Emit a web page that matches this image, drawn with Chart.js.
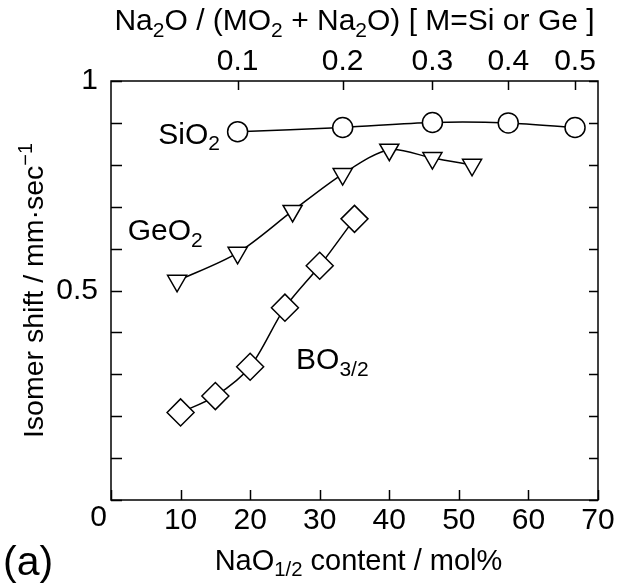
<!DOCTYPE html>
<html>
<head>
<meta charset="utf-8">
<script src="https://cdn.jsdelivr.net/npm/chart.js@4/dist/chart.umd.min.js"></script>
<style>
html, body { margin: 0; padding: 0; background: #fff; }
#wrap { width: 619px; height: 584px; }
</style>
</head>
<body>
<div id="wrap"><canvas id="chart"></canvas></div>
<script>
// NaO1/2 content (mol%) vs isomer shift (mm/sec)
const siX = [18.2, 33.3, 46.2, 57.1, 66.7];
const siY = [0.879, 0.889, 0.901, 0.900, 0.889];
const geX = [9.5, 18.2, 26.1, 33.3, 40.0, 46.2, 51.9];
const geY = [0.523, 0.590, 0.690, 0.778, 0.836, 0.816, 0.800];
const boX = [10, 15, 20, 25, 30, 35];
const boY = [0.209, 0.248, 0.318, 0.459, 0.559, 0.671];

// axis ticks
const xTicks = [0, 10, 20, 30, 40, 50, 60, 70];
const yTicks = [0, 0.1, 0.2, 0.3, 0.4, 0.5, 0.6, 0.7, 0.8, 0.9, 1];
const yLabels = ['', '', '', '', '', '0.5', '', '', '', '', '1'];
// top axis: Na2O/(MO2+Na2O) labels and where they sit on the mol% scale
const topLabels = ['0.1', '0.2', '0.3', '0.4', '0.5'];
const topTickPos = [18.2, 33.3, 46.2, 57.1, 66.7];

const FAMILY = '"Liberation Sans", Arial, sans-serif';
const tickFont = { family: FAMILY, size: 30, lineHeight: 1.2 };

function pts(xs, ys) {
    return xs.map((x, i) => ({ x: x, y: ys[i] }));
}

function series(data, style, radius, rot) {
    return {
        data: data,
        showLine: true,
        tension: 0.3,
        borderColor: '#000',
        borderWidth: 1.5,
        pointStyle: style,
        pointRadius: radius,
        pointRotation: rot,
        pointBackgroundColor: '#fff',
        pointBorderColor: '#000',
        pointBorderWidth: 1.5
    };
}

// text with sub/superscripts: parts = [[text, 'sub'|'sup'|undefined], ...]
function richWidth(ctx, parts, size) {
    let w = 0;
    parts.forEach(p => {
        ctx.font = (p[1] ? size * 0.7 : size) + 'px ' + FAMILY;
        w += ctx.measureText(p[0]).width;
    });
    return w;
}
function drawRich(ctx, parts, x, y, size, align) {
    let cx = x;
    if (align === 'center') cx = x - richWidth(ctx, parts, size) / 2;
    ctx.textAlign = 'left';
    ctx.textBaseline = 'alphabetic';
    parts.forEach(p => {
        const s = p[1] ? size * 0.7 : size;
        ctx.font = s + 'px ' + FAMILY;
        let dy = 0;
        if (p[1] === 'sub') dy = size * 0.22;
        if (p[1] === 'sup') dy = -size * 0.38;
        ctx.fillText(p[0], cx, y + dy);
        cx += ctx.measureText(p[0]).width;
    });
}

const seriesLabels = [
    { parts: [['SiO'], ['2', 'sub']], x: 6.8, y: 0.85 },
    { parts: [['GeO'], ['2', 'sub']], x: 2.4, y: 0.62 },
    { parts: [['BO'], ['3/2', 'sub']], x: 26.6, y: 0.312 }
];

const framePlugin = {
    id: 'frame',
    afterDraw(chart) {
        const ctx = chart.ctx;
        const a = chart.chartArea;
        const xs = chart.scales.x, ys = chart.scales.y;
        ctx.save();
        ctx.strokeStyle = '#000';
        ctx.fillStyle = '#000';
        ctx.lineWidth = 1.5;
        ctx.strokeRect(a.left, a.top, a.right - a.left, a.bottom - a.top);

        // inward tick marks
        ctx.beginPath();
        xTicks.forEach(v => {
            const px = Math.round(xs.getPixelForValue(v)) + 0.5;
            ctx.moveTo(px, a.bottom);
            ctx.lineTo(px, a.bottom - 10);
        });
        topTickPos.forEach(v => {
            const px = Math.round(xs.getPixelForValue(v)) + 0.5;
            ctx.moveTo(px, a.top);
            ctx.lineTo(px, a.top + 9);
        });
        yTicks.forEach(v => {
            const py = Math.round(ys.getPixelForValue(v)) + 0.5;
            ctx.moveTo(a.left, py);
            ctx.lineTo(a.left + 11, py);
            ctx.moveTo(a.right, py);
            ctx.lineTo(a.right - 9, py);
        });
        ctx.stroke();

        // shared origin label
        ctx.font = '30px ' + FAMILY;
        ctx.textAlign = 'right';
        ctx.textBaseline = 'middle';
        ctx.fillText('0', a.left - 4, a.bottom + 18);

        // series names
        seriesLabels.forEach(l => {
            drawRich(ctx, l.parts, xs.getPixelForValue(l.x), ys.getPixelForValue(l.y), 30, 'left');
        });

        // axis titles
        const cx = (a.left + a.right) / 2;
        drawRich(ctx, [['Na'], ['2', 'sub'], ['O / (MO'], ['2', 'sub'], [' + Na'], ['2', 'sub'], ['O) [ M=Si or Ge ]']],
            cx, 30, 30, 'center');
        drawRich(ctx, [['NaO'], ['1/2', 'sub'], [' content / mol%']], cx + 4, 570, 29, 'center');

        ctx.save();
        ctx.translate(43, (a.top + a.bottom) / 2);
        ctx.rotate(-Math.PI / 2);
        drawRich(ctx, [['Isomer shift / mm\u00b7sec'], ['\u22121', 'sup']], 0, 0, 28.5, 'center');
        ctx.restore();

        ctx.font = '41px ' + FAMILY;
        ctx.textAlign = 'left';
        ctx.textBaseline = 'alphabetic';
        ctx.fillText('(a)', 3, 575);
        ctx.restore();
    }
};

new Chart(document.getElementById('chart'), {
    type: 'scatter',
    data: {
        datasets: [
            series(pts(siX, siY), 'circle', 10, 0),
            series(pts(geX, geY), 'triangle', 11, 180),
            series(pts(boX, boY), 'rectRot', 13.5, 0)
        ]
    },
    options: {
        responsive: true,
        maintainAspectRatio: false,
        animation: false,
        layout: { padding: { left: 0, right: 21, top: 0, bottom: 0 } },
        plugins: { legend: { display: false }, tooltip: { enabled: false } },
        scales: {
            x: {
                type: 'linear', position: 'bottom', min: 0, max: 70,
                afterBuildTicks: s => { s.ticks = xTicks.map(v => ({ value: v })); },
                afterFit: s => { s.height = 84; },
                grid: { display: false },
                border: { display: false },
                ticks: {
                    font: tickFont, color: '#000', padding: -5, maxRotation: 0, autoSkip: false,
                    callback: v => (v === 0 ? '' : String(v))
                }
            },
            xTop: {
                type: 'linear', position: 'top', min: 0, max: 70,
                afterBuildTicks: s => { s.ticks = topTickPos.map(v => ({ value: v })); },
                afterFit: s => { s.height = 81; },
                grid: { display: false },
                border: { display: false },
                ticks: {
                    font: tickFont, color: '#000', padding: -7, maxRotation: 0, autoSkip: false,
                    callback: (v, i) => topLabels[i]
                }
            },
            y: {
                type: 'linear', position: 'left', min: 0, max: 1,
                afterBuildTicks: s => { s.ticks = yTicks.map(v => ({ value: v })); },
                afterFit: s => { s.width = 111; },
                grid: { display: false },
                border: { display: false },
                ticks: {
                    font: tickFont, color: '#000', padding: 5, autoSkip: false,
                    callback: (v, i) => yLabels[i]
                }
            }
        }
    },
    plugins: [framePlugin]
});
</script>
</body>
</html>
